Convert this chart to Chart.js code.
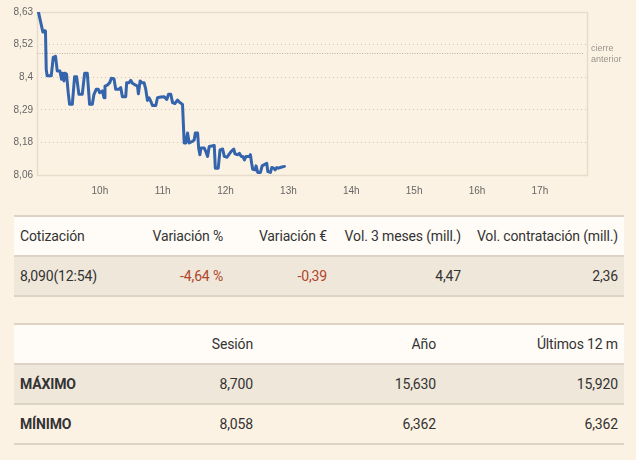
<!DOCTYPE html>
<html>
<head>
<meta charset="utf-8">
<script src="https://cdn.jsdelivr.net/npm/chart.js@4.4.0/dist/chart.umd.min.js"></script>
<style>
  html, body { margin:0; padding:0; background:#fcf2e3; width:636px; height:460px; overflow:hidden; }
  #wrap { position:absolute; left:0; top:0; width:636px; height:195px; }
  table { position:absolute; left:14px; width:610px; border-collapse:collapse; table-layout:fixed;
          font-family: Roboto, "Noto Sans", sans-serif; font-size:14px; color:#333; letter-spacing:-0.15px; }
  td { height:40px; padding:0 6px; white-space:nowrap; vertical-align:middle; box-sizing:border-box; }
  tr { border-bottom:2px solid #ddd4c6; }
  .r { text-align:right; }
  .hd { background:#fffcf7; }
  .dk { background:#efe7da; }
  .lt { background:#fcf2e3; }
  .neg { color:#b0452a; }
  b { font-weight:700; }
  #t1 { top:215px; border-top:2px solid #ddd4c6; }
  #t2 { top:323px; border-top:2px solid #ddd4c6; }
</style>
</head>
<body>
<div id="wrap"><canvas id="c" width="636" height="195"></canvas></div>

<table id="t1">
  <colgroup><col style="width:100px"><col style="width:115px"><col style="width:104px"><col style="width:134px"><col style="width:157px"></colgroup>
  <tr class="hd"><td>Cotización</td><td class="r">Variación %</td><td class="r">Variación €</td><td class="r">Vol. 3 meses (mill.)</td><td class="r">Vol. contratación (mill.)</td></tr>
  <tr class="dk"><td>8,090(12:54)</td><td class="r neg">-4,64 %</td><td class="r neg">-0,39</td><td class="r">4,47</td><td class="r">2,36</td></tr>
</table>

<table id="t2">
  <colgroup><col style="width:116px"><col style="width:129px"><col style="width:183px"><col style="width:182px"></colgroup>
  <tr class="hd"><td></td><td class="r">Sesión</td><td class="r">Año</td><td class="r">Últimos 12 m</td></tr>
  <tr class="dk"><td><b>MÁXIMO</b></td><td class="r">8,700</td><td class="r">15,630</td><td class="r">15,920</td></tr>
  <tr class="lt"><td><b>MÍNIMO</b></td><td class="r">8,058</td><td class="r">6,362</td><td class="r">6,362</td></tr>
</table>

<script>
// minutes after 09:00
const minutes = [1.5,5.6,6.5,7.5,8.1,8.8,9.7,13.6,15.5,17.7,19.3,21.9,23.4,24.7,25.7,26.6,28.2,29.8,31.1,33.7,
  35.9,37.8,40.0,43.2,45.5,48.0,50.2,52.8,54.4,56.6,58.5,59.8,62.4,64.0,64.9,67.1,69.4,71.0,73.5,75.1,
  78.3,79.9,81.5,84.7,85.6,87.9,89.5,91.1,94.2,95.9,96.8,98.4,100.0,102.2,103.8,105.4,107.0,108.6,110.2,113.4,
  115.0,118.2,121.4,123.9,125.5,127.7,129.4,131.6,134.1,135.7,138.9,140.5,142.1,143.7,145.3,148.5,150.1,151.1,153.3,154.3,
  155.5,156.5,159.7,161.2,162.8,164.4,169.2,170.2,173.0,174.7,177.2,178.8,181.4,183.6,185.2,187.8,189.0,191.6,193.2,194.8,
  196.4,198.0,199.5,202.7,203.7,204.9,205.9,208.2,209.1,210.7,213.3,214.9,219.3,220.3,222.8,224.1,226.0,227.3,228.9,230.5,
  233.0,236.2];
const prices = [8.628,8.560,8.560,8.565,8.563,8.430,8.407,8.407,8.471,8.475,8.424,8.424,8.395,8.416,8.389,8.416,8.413,8.348,8.307,8.307,
  8.404,8.404,8.342,8.342,8.416,8.416,8.307,8.307,8.342,8.360,8.360,8.348,8.354,8.330,8.371,8.374,8.383,8.398,8.397,8.360,
  8.360,8.366,8.334,8.334,8.383,8.383,8.391,8.381,8.374,8.371,8.344,8.389,8.383,8.383,8.360,8.321,8.330,8.318,8.303,8.303,
  8.330,8.333,8.334,8.324,8.342,8.342,8.313,8.310,8.322,8.315,8.307,8.172,8.172,8.207,8.172,8.178,8.183,8.207,8.207,8.154,
  8.131,8.154,8.154,8.142,8.125,8.160,8.163,8.084,8.084,8.148,8.151,8.125,8.122,8.134,8.142,8.151,8.134,8.131,8.136,8.125,
  8.125,8.113,8.125,8.125,8.131,8.101,8.080,8.078,8.092,8.069,8.069,8.092,8.101,8.072,8.069,8.086,8.084,8.078,8.086,8.084,
  8.087,8.090];
const previousClose = 8.485;
const yMin = 8.06, yMax = 8.63;
const yTickLabels = ['8,06','8,18','8,29','8,4','8,52','8,63'];
const xTickMinutes = [60,120,180,240,300,360,420,480];
const xTickLabels = ['10h','11h','12h','13h','14h','15h','16h','17h'];
const sessionMinutes = 525; // 09:00 - 17:45

const frameAndClose = {
  id:'frameAndClose',
  beforeDatasetsDraw(chart){
    const {ctx, chartArea:a, scales:{y}} = chart;
    ctx.save();
    ctx.strokeStyle = '#e6dccb';
    ctx.lineWidth = 1.5;
    ctx.strokeRect(a.left+0.5, a.top+0.5, a.right-a.left, a.bottom-a.top);
    const py = Math.round(y.getPixelForValue(previousClose))+0.5;
    ctx.strokeStyle = '#bdb3a4';
    ctx.lineWidth = 1;
    ctx.setLineDash([1,1.5]);
    ctx.beginPath(); ctx.moveTo(a.left, py); ctx.lineTo(a.right-3, py); ctx.stroke();
    ctx.restore();
  },
  afterDraw(chart){
    const {ctx, chartArea:a, scales:{y}} = chart;
    const py = y.getPixelForValue(previousClose);
    ctx.save();
    ctx.fillStyle = '#9a958e';
    ctx.font = '9px "Liberation Sans", Arial, sans-serif';
    ctx.textBaseline = 'middle';
    ctx.fillText('cierre', a.right+4, py-5);
    ctx.fillText('anterior', a.right+4, py+6);
    ctx.restore();
  }
};

new Chart(document.getElementById('c'), {
  type:'line',
  data:{ datasets:[{
    data: minutes.map((m,i)=>({x:m, y:prices[i]})),
    borderColor:'#3464ac', borderWidth:3, pointRadius:0, tension:0,
    borderJoinStyle:'round', borderCapStyle:'round'
  }]},
  options:{
    responsive:false, animation:false,
    layout:{ padding:{ top:12, right:49, left:0, bottom:0 } },
    plugins:{ legend:{display:false}, tooltip:{enabled:false} },
    scales:{
      x:{
        type:'linear', min:0, max:sessionMinutes,
        afterFit(s){ s.height = 20; },
        afterBuildTicks(s){ s.ticks = xTickMinutes.map(v=>({value:v})); },
        ticks:{ autoSkip:false, maxRotation:0, padding:2, color:'#666',
          font:{ family:'"Liberation Sans", Arial, sans-serif', size:10 },
          callback(v){ const i = xTickMinutes.indexOf(v); return i>=0 ? xTickLabels[i] : ''; } },
        grid:{ display:false },
        border:{ display:false }
      },
      y:{
        min:yMin, max:yMax,
        afterFit(s){ s.width = 37; },
        afterBuildTicks(s){ s.ticks = yTickLabels.map((_,i)=>({value: yMin + i*(yMax-yMin)/(yTickLabels.length-1)})); },
        ticks:{ autoSkip:false, padding:4, color:'#666',
          font:{ family:'"Liberation Sans", Arial, sans-serif', size:10 },
          callback(v, i){ return yTickLabels[i]; } },
        grid:{ drawTicks:false, lineWidth:1,
          color(c){ return (c.index===0 || c.index===yTickLabels.length-1) ? 'rgba(0,0,0,0)' : '#cfc5b5'; } },
        border:{ display:false, dash:[1,3] }
      }
    }
  },
  plugins:[frameAndClose]
});
</script>
</body>
</html>
